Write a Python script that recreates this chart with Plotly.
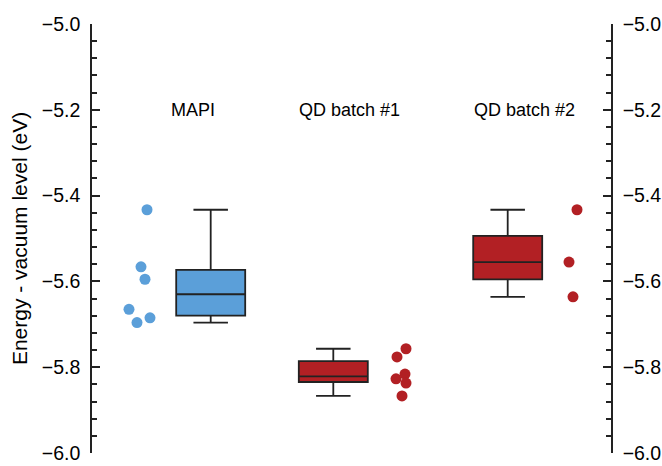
import numpy as np
import plotly.graph_objects as go

# ---- data ----
groups = ["MAPI", "QD batch #1", "QD batch #2"]
mapi_vals = [-5.433, -5.566, -5.595, -5.665, -5.696, -5.685]
qd1_vals = [-5.757, -5.776, -5.827, -5.816, -5.837, -5.867]
qd2_vals = [-5.433, -5.555, -5.636]
y_ticks = [-6.0, -5.8, -5.6, -5.4, -5.2, -5.0]

# ---- layout helpers (x axis hidden, arbitrary units) ----
box_pos = [1.187, 2.413, 4.157]
dot_pos = [0.48, 3.10, 4.81]
label_pos = [1.013, 2.57, 4.32]
jitters = [
    [0.07, 0.01, 0.05, -0.11, -0.03, 0.10],
    [0.04, -0.05, -0.06, 0.03, 0.04, 0.0],
    [0.04, -0.04, 0.0],
]
colors = ["#5b9fd9", "#b22024", "#b22024"]
all_vals = [mapi_vals, qd1_vals, qd2_vals]


def box_stats(vals):
    a = np.asarray(vals, dtype=float)
    q1, med, q3 = np.percentile(a, [25, 50, 75])
    iqr = q3 - q1
    lo = a[a >= q1 - 1.5 * iqr].min()
    hi = a[a <= q3 + 1.5 * iqr].max()
    return float(q1), float(med), float(q3), float(lo), float(hi)


fig = go.Figure()
for i, vals in enumerate(all_vals):
    q1, med, q3, lo, hi = box_stats(vals)
    fig.add_trace(go.Box(
        x=[box_pos[i]], q1=[q1], median=[med], q3=[q3],
        lowerfence=[lo], upperfence=[hi],
        boxpoints=False,
        width=0.69, whiskerwidth=0.5,
        fillcolor=colors[i], line=dict(color="#222222", width=1.8),
        showlegend=False, hoverinfo="skip",
    ))
    fig.add_trace(go.Scatter(
        x=[dot_pos[i] + j for j in jitters[i]], y=vals,
        mode="markers", marker=dict(color=colors[i], size=11, line=dict(width=0)),
        showlegend=False,
    ))

# invisible trace on right axis so it is drawn
fig.add_trace(go.Scatter(x=[0], y=[-5.5], yaxis="y2", mode="markers",
                         marker=dict(opacity=0), showlegend=False, hoverinfo="skip"))

for i, g in enumerate(groups):
    fig.add_annotation(x=label_pos[i], y=-5.2, text=g, showarrow=False,
                       font=dict(size=18, color="black"), xanchor="center", yanchor="middle")

axis_common = dict(
    range=[-6.0, -5.0], tickvals=y_ticks, tickformat=".1f",
    ticks="inside", ticklen=8, tickwidth=1.5, tickcolor="#222222",
    showline=True, linecolor="#222222", linewidth=1.5,
    showgrid=False, zeroline=False, automargin=False,
    ticklabelstandoff=6,
    tickfont=dict(size=19.5, color="black"),
    minor=dict(dtick=0.04, tick0=-6.0, ticks="inside", ticklen=5, tickwidth=1.5,
               tickcolor="#222222", showgrid=False),
)

fig.update_layout(
    width=662, height=466,
    margin=dict(l=92, r=51, t=24, b=13, pad=0, autoexpand=False),
    paper_bgcolor="white", plot_bgcolor="white",
    font=dict(family="Liberation Sans, Arial, sans-serif", color="black"),
    xaxis=dict(visible=False, range=[0, 5.19], automargin=False),
    yaxis=dict(**axis_common, side="left",
               title=dict(text="Energy - vacuum level (eV)", font=dict(size=21), standoff=8)),
    yaxis2=dict(**axis_common, side="right", overlaying="y", anchor="x"),
    boxmode="overlay",
)

fig.write_html("out.html")
